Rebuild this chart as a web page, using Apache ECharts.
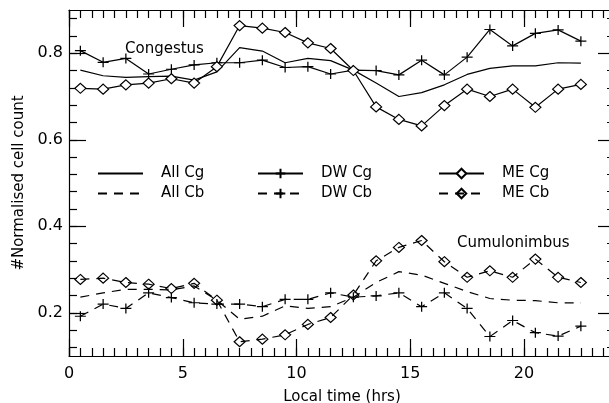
<!DOCTYPE html>
<html>
<head>
<meta charset="utf-8">
<script src="https://cdn.jsdelivr.net/npm/echarts@6/dist/echarts.min.js"></script>
<style>
  html, body { margin: 0; padding: 0; background: #fff; }
  #chart { width: 609px; height: 403px; }
</style>
</head>
<body>
<div id="chart"></div>
<script>
// local time bins (hrs)
var hours = [0.5, 1.5, 2.5, 3.5, 4.5, 5.5, 6.5, 7.5, 8.5, 9.5, 10.5, 11.5,
             12.5, 13.5, 14.5, 15.5, 16.5, 17.5, 18.5, 19.5, 20.5, 21.5, 22.5];

// congestus
var allCg = [0.761, 0.748, 0.744, 0.746, 0.747, 0.738, 0.757, 0.813, 0.805, 0.778, 0.788, 0.783,
             0.761, 0.731, 0.700, 0.709, 0.727, 0.751, 0.765, 0.771, 0.771, 0.778, 0.777];
var dwCg  = [0.806, 0.779, 0.788, 0.752, 0.763, 0.773, 0.778, 0.778, 0.784, 0.767, 0.769, 0.752,
             0.761, 0.760, 0.750, 0.784, 0.750, 0.791, 0.855, 0.817, 0.846, 0.854, 0.828];
var meCg  = [0.719, 0.717, 0.727, 0.731, 0.741, 0.731, 0.769, 0.864, 0.858, 0.848, 0.824, 0.811,
             0.760, 0.676, 0.647, 0.632, 0.679, 0.717, 0.700, 0.717, 0.675, 0.717, 0.728];

// cumulonimbus
var allCb = [0.236, 0.246, 0.254, 0.254, 0.253, 0.262, 0.229, 0.185, 0.192, 0.216, 0.210, 0.214,
             0.236, 0.270, 0.295, 0.287, 0.268, 0.249, 0.233, 0.229, 0.228, 0.223, 0.223];
var dwCb  = [0.192, 0.220, 0.210, 0.246, 0.235, 0.223, 0.220, 0.220, 0.214, 0.231, 0.231, 0.246,
             0.236, 0.239, 0.246, 0.214, 0.246, 0.210, 0.145, 0.182, 0.154, 0.146, 0.169];
var meCb  = [0.277, 0.280, 0.270, 0.266, 0.256, 0.268, 0.229, 0.133, 0.139, 0.149, 0.173, 0.189,
             0.241, 0.320, 0.351, 0.367, 0.318, 0.282, 0.297, 0.282, 0.324, 0.282, 0.270];

// y ticks
var yMajor = [0.2, 0.4, 0.6, 0.8];
var yMinor = [0.12, 0.16, 0.2, 0.24, 0.28, 0.32, 0.36, 0.4, 0.44, 0.48, 0.52, 0.56, 0.6,
              0.64, 0.68, 0.72, 0.76, 0.8, 0.84, 0.88];

var FONT = 'DejaVu Sans';
var PLUS = 'path://M0,5H10M5,0V10';

function pairs(vals) {
    var out = [];
    for (var i = 0; i < hours.length; i++) {
        out.push([hours[i], vals[i]]);
    }
    return out;
}

function xAx(pos, interval, len, labels, line) {
    return {
        type: 'value', position: pos, min: 0, max: 24, interval: interval,
        axisLine: { show: line, onZero: false, lineStyle: { color: '#000', width: 1.2 } },
        axisTick: { show: true, inside: true, length: len, lineStyle: { color: '#000', width: 1.2 } },
        axisLabel: {
            show: labels, margin: 10, color: '#000', fontFamily: FONT, fontSize: 16,
            formatter: function (v) { return v % 5 === 0 ? String(v) : ''; }
        },
        splitLine: { show: false }
    };
}

function yAx(pos, ticks, len, labels, line) {
    return {
        type: 'value', position: pos, min: 0.1, max: 0.9,
        axisLine: { show: line, onZero: false, lineStyle: { color: '#000', width: 1.2 } },
        axisTick: { show: true, inside: true, length: len, customValues: ticks,
                    lineStyle: { color: '#000', width: 1.2 } },
        axisLabel: {
            show: labels, margin: 6, color: '#000', fontFamily: FONT, fontSize: 16,
            customValues: yMajor,
            formatter: function (v) { return v.toFixed(1); }
        },
        splitLine: { show: false }
    };
}

var chart = echarts.init(document.getElementById('chart'));

var xAxes = [
    xAx('bottom', 5, 17, true, true),
    xAx('bottom', 0.5, 8, false, false),
    xAx('top', 5, 17, false, true),
    xAx('top', 0.5, 8, false, false)
];
xAxes[0].name = 'Local time (hrs)';
xAxes[0].nameLocation = 'middle';
xAxes[0].nameGap = 34;
xAxes[0].nameTextStyle = { color: '#000', fontFamily: FONT, fontSize: 15 };

var yAxes = [
    yAx('left', yMajor, 17, true, true),
    yAx('left', yMinor, 8, false, false),
    yAx('right', yMajor, 17, false, true),
    yAx('right', yMinor, 8, false, false)
];
yAxes[0].name = '#Normalised cell count';
yAxes[0].nameLocation = 'middle';
yAxes[0].nameGap = 30;
yAxes[0].nameTextStyle = { color: '#000', fontFamily: FONT, fontSize: 15 };

var noMark = { color: 'rgba(0,0,0,0)', borderWidth: 0, opacity: 0 };

function legendAt(left, names) {
    return {
        data: names, left: left, top: 161, orient: 'vertical',
        itemWidth: 45, itemHeight: 12, itemGap: 5, selectedMode: false,
        textStyle: { color: '#000', fontFamily: FONT, fontSize: 15, padding: [0, 0, 0, 13] }
    };
}

function lineSeries(name, vals, symbol, dashed, fill) {
    return {
        name: name, type: 'line', data: pairs(vals),
        xAxisIndex: 0, yAxisIndex: 0,
        symbol: symbol, symbolSize: [11, 10], showSymbol: symbol !== 'none',
        lineStyle: { color: '#000', width: 1.2, type: dashed ? [9, 7] : 'solid' },
        itemStyle: { color: fill, borderColor: '#000', borderWidth: 1.2 },
        emphasis: { disabled: true },
        z: 3
    };
}

chart.setOption({
    animation: false,
    backgroundColor: '#fff',
    grid: { left: 69, top: 10, width: 546, height: 346, outerBoundsMode: 'none' },
    xAxis: xAxes,
    yAxis: yAxes,
    legend: [
        legendAt(92, [{ name: 'All Cg', itemStyle: noMark }, { name: 'All Cb', itemStyle: noMark }]),
        legendAt(252, ['DW Cg', 'DW Cb']),
        legendAt(433, ['ME Cg', 'ME Cb'])
    ],
    graphic: [
        { type: 'text', left: 125, top: 42,
          style: { text: 'Congestus', fill: '#000', font: '15px "DejaVu Sans"' } },
        { type: 'text', left: 457, top: 236,
          style: { text: 'Cumulonimbus', fill: '#000', font: '15px "DejaVu Sans"' } }
    ],
    series: [
        lineSeries('All Cg', allCg, 'none', false, '#000'),
        lineSeries('All Cb', allCb, 'none', true, '#000'),
        lineSeries('DW Cg', dwCg, PLUS, false, 'none'),
        lineSeries('DW Cb', dwCb, PLUS, true, 'none'),
        lineSeries('ME Cg', meCg, 'diamond', false, '#fff'),
        lineSeries('ME Cb', meCb, 'diamond', true, 'rgba(0,0,0,0)')
    ]
});
</script>
</body>
</html>
